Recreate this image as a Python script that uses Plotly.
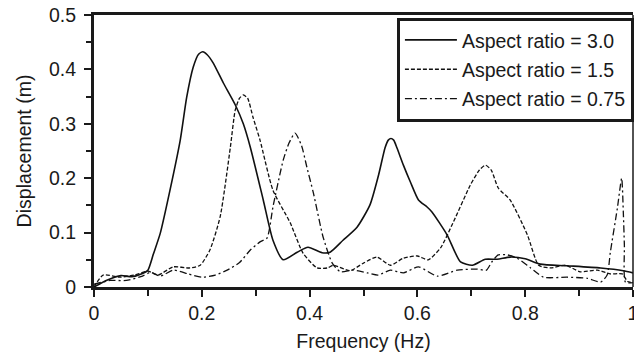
import plotly.graph_objects as go

# Displacement response spectra for three building aspect ratios
freq_ar30 = [0, 0.025, 0.05, 0.07, 0.09, 0.1, 0.11, 0.123, 0.141, 0.16, 0.172, 0.184, 0.194,
             0.202, 0.21, 0.221, 0.24, 0.262, 0.277, 0.29, 0.314, 0.332, 0.351, 0.377, 0.397,
             0.423, 0.438, 0.462, 0.488, 0.512, 0.528, 0.54, 0.546, 0.551, 0.556, 0.562, 0.574,
             0.587, 0.602, 0.618, 0.627, 0.655, 0.68, 0.702, 0.726, 0.748, 0.772, 0.8, 0.828,
             0.878, 0.94, 0.982, 1.0]
disp_ar30 = [0, 0.013, 0.021, 0.019, 0.025, 0.031, 0.06, 0.099, 0.178, 0.27, 0.349, 0.404, 0.428,
             0.4325, 0.427, 0.412, 0.375, 0.335, 0.30, 0.257, 0.16, 0.086, 0.05, 0.064, 0.073,
             0.063, 0.064, 0.086, 0.11, 0.151, 0.206, 0.256, 0.27, 0.273, 0.27, 0.256, 0.224,
             0.193, 0.16, 0.147, 0.138, 0.096, 0.046, 0.04, 0.051, 0.051, 0.055, 0.052, 0.042,
             0.039, 0.035, 0.03, 0.026]

freq_ar15 = [0, 0.017, 0.048, 0.075, 0.1, 0.119, 0.147, 0.178, 0.197, 0.215, 0.234, 0.253, 0.262,
             0.27, 0.277, 0.285, 0.295, 0.308, 0.332, 0.364, 0.388, 0.414, 0.433, 0.444, 0.475,
             0.5, 0.525, 0.55, 0.574, 0.6, 0.62, 0.643, 0.667, 0.698, 0.715, 0.726, 0.737,
             0.75, 0.772, 0.804, 0.825, 0.847, 0.875, 0.902, 0.934, 0.958, 0.98, 0.99, 1.0]
disp_ar15 = [0, 0.022, 0.018, 0.022, 0.029, 0.022, 0.037, 0.035, 0.04, 0.068, 0.129, 0.257, 0.325,
             0.347, 0.353, 0.347, 0.312, 0.27, 0.178, 0.118, 0.062, 0.035, 0.035, 0.04, 0.03,
             0.044, 0.055, 0.04, 0.053, 0.057, 0.05, 0.072, 0.12, 0.187, 0.215, 0.224, 0.215,
             0.182, 0.16, 0.096, 0.04, 0.035, 0.04, 0.028, 0.031, 0.024, 0.024, 0.01, 0.008]

freq_ar075 = [0, 0.03, 0.06, 0.09, 0.105, 0.123, 0.147, 0.175, 0.2, 0.225, 0.247, 0.27, 0.29,
              0.308, 0.321, 0.332, 0.351, 0.362, 0.373, 0.385, 0.395, 0.407, 0.425, 0.442,
              0.457, 0.481, 0.507, 0.527, 0.55, 0.574, 0.602, 0.637, 0.674, 0.711, 0.728,
              0.738, 0.75, 0.767, 0.785, 0.81, 0.834, 0.878, 0.915, 0.94, 0.952, 0.958, 0.971,
              0.979, 0.982, 0.984, 0.986, 1.0]
disp_ar075 = [0.005, 0.012, 0.012, 0.02, 0.027, 0.02, 0.031, 0.024, 0.018, 0.022, 0.031, 0.045,
              0.068, 0.083, 0.09, 0.147, 0.233, 0.265, 0.283, 0.26, 0.22, 0.173, 0.092, 0.044,
              0.028, 0.031, 0.026, 0.022, 0.031, 0.026, 0.037, 0.02, 0.031, 0.033, 0.031,
              0.046, 0.059, 0.059, 0.053, 0.035, 0.018, 0.018, 0.016, 0.009, 0.022, 0.064,
              0.145, 0.2, 0.138, 0.077, 0.009, 0.008]

series = [
    ("Aspect ratio = 3.0", freq_ar30, disp_ar30, "solid", 1.6),
    ("Aspect ratio = 1.5", freq_ar15, disp_ar15, "4px,2px", 1.3),
    ("Aspect ratio = 0.75", freq_ar075, disp_ar075, "7px,3px,2px,3px", 1.3),
]

font_family = "Liberation Sans, Arial, sans-serif"
ink = "#1a1a1a"
fsize = 19.5

fig = go.Figure()
for i, (name, fx, dy, dash, width) in enumerate(series):
    fig.add_trace(go.Scatter(
        x=fx, y=dy, name=name, mode="lines",
        line=dict(color="#111111", width=width, dash=dash, shape="spline", smoothing=0.6),
        legendgroup=f"g{i}",
    ))

axis_common = dict(
    showline=True, linecolor=ink, linewidth=3,
    ticks="outside", tickcolor=ink, tickwidth=2, ticklen=7,
    showgrid=False, zeroline=False,
    tickfont=dict(size=fsize, color=ink, family=font_family),
    ticklabeloverflow="allow",
)

fig.update_xaxes(
    range=[0, 1], dtick=0.2, tick0=0, mirror=True, automargin=False,
    minor=dict(dtick=0.1, ticks="outside", ticklen=6, tickwidth=2, tickcolor=ink),
    title=dict(text="Frequency (Hz)", font=dict(size=fsize, color=ink, family=font_family),
               standoff=11),
    **axis_common,
)
fig.update_yaxes(
    range=[0, 0.5], dtick=0.1, tick0=0,
    minor=dict(dtick=0.05, ticks="outside", ticklen=5, tickwidth=2, tickcolor=ink),
    ticklabelstandoff=4,
    title=dict(text="Displacement (m)", font=dict(size=fsize, color=ink, family=font_family),
               standoff=13),
    **axis_common,
)

# thin right-hand frame edge
fig.add_shape(type="line", xref="paper", yref="paper", x0=1, x1=1, y0=0, y1=1,
              line=dict(color=ink, width=1.5))

fig.update_layout(
    width=634, height=358,
    margin=dict(l=94, r=1, t=15, b=71, autoexpand=False),
    paper_bgcolor="white", plot_bgcolor="white",
    font=dict(family=font_family, size=fsize, color=ink),
    showlegend=True,
    legend=dict(
        x=0.562, y=0.99, xanchor="left", yanchor="top",
        bgcolor="white", bordercolor=ink, borderwidth=3,
        font=dict(size=fsize, color=ink, family=font_family),
        tracegroupgap=1, itemwidth=52,
    ),
)

fig.write_html("out.html")
